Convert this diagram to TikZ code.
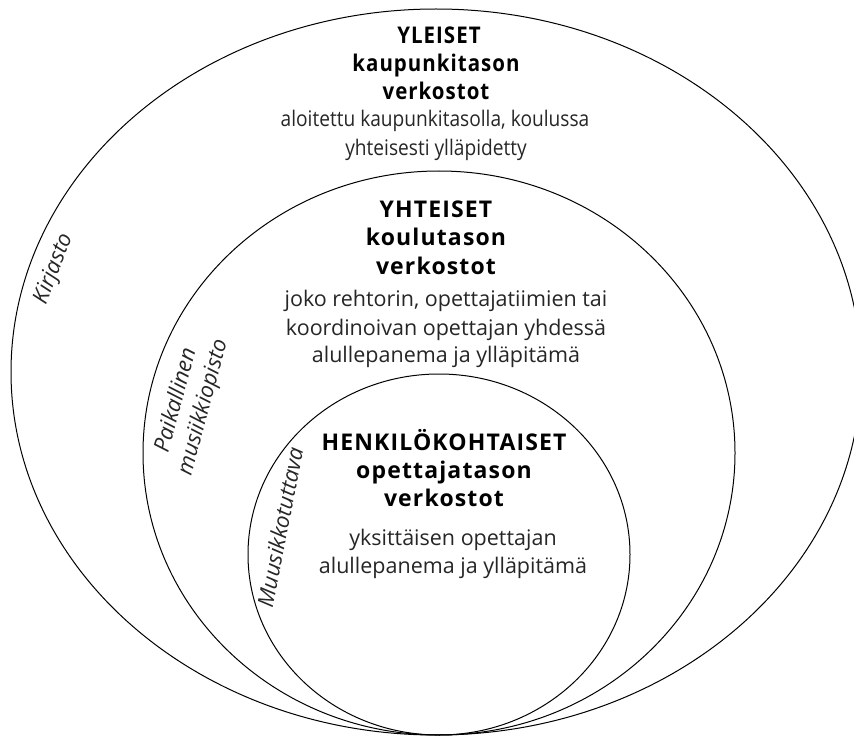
\documentclass[tikz,border=0pt]{standalone}
\usepackage{fontspec}
\usepackage{graphicx}
\setmainfont{Open Sans}
\newcommand{\narrowtxt}[1]{\scalebox{0.89}[1]{#1}}
\begin{document}
\begin{tikzpicture}[x=1pt,y=-1pt,
  ring/.style={draw=black,line width=1pt},
  head/.style={font=\fontsize{23}{28}\selectfont\bfseries\addfontfeatures{LetterSpace=5}, inner sep=0, anchor=base},
  desc/.style={font=\fontsize{21.5}{28}\selectfont, inner sep=0, anchor=base, text=black!85},
  side/.style={font=\fontsize{22}{28}\selectfont\itshape, inner sep=0, align=center, text=black!85}]
\useasboundingbox (0,0) rectangle (854,738);
\begin{scope}
\clip (0,0) rectangle (854,738);
\draw[ring] (436,372) ellipse [x radius=425pt, y radius=363pt];
\end{scope}
\draw[ring] (439,453) ellipse [x radius=296pt, y radius=282pt];
\draw[ring] (439,554.5) ellipse [x radius=191pt, y radius=180.5pt];
% outer texts
\node[head] (h1a) at (439,44) {\narrowtxt{YLEISET}};
\node[head] (h1b) at (436,72) {\narrowtxt{kaupunkitason}};
\node[head] (h1c) at (436,100) {\narrowtxt{verkostot}};
\node[desc] (d1a) at (435,127) {\narrowtxt{aloitettu kaupunkitasolla, koulussa}};
\node[desc] (d1b) at (436,156) {\narrowtxt{yhteisesti ylläpidetty}};
% middle texts
\node[head] (h2a) at (436,218) {YHTEISET};
\node[head] (h2b) at (436,246) {koulutason};
\node[head] (h2c) at (436,274) {verkostot};
\node[desc] (d2a) at (446,306) {joko rehtorin, opettajatiimien tai};
\node[desc] (d2b) at (446,335) {koordinoivan opettajan yhdessä};
\node[desc] (d2c) at (446,362) {alullepanema ja ylläpitämä};
% inner texts
\node[head] (h3a) at (444,450) {HENKILÖKOHTAISET};
\node[head] (h3b) at (444,478) {opettajatason};
\node[head] (h3c) at (444,506) {verkostot};
\node[desc] (d3a) at (453,545) {yksittäisen opettajan};
\node[desc] (d3b) at (453,573) {alullepanema ja ylläpitämä};
% side labels
\node[side, rotate=69] (kir) at (54,269) {Kirjasto};
\node[side, rotate=75] (pai) at (190,404) {Paikallinen\\musiikkiopisto};
\node[side, rotate=79] (muu) at (280,527) {Muusikkotuttava};
\end{tikzpicture}
\end{document}
